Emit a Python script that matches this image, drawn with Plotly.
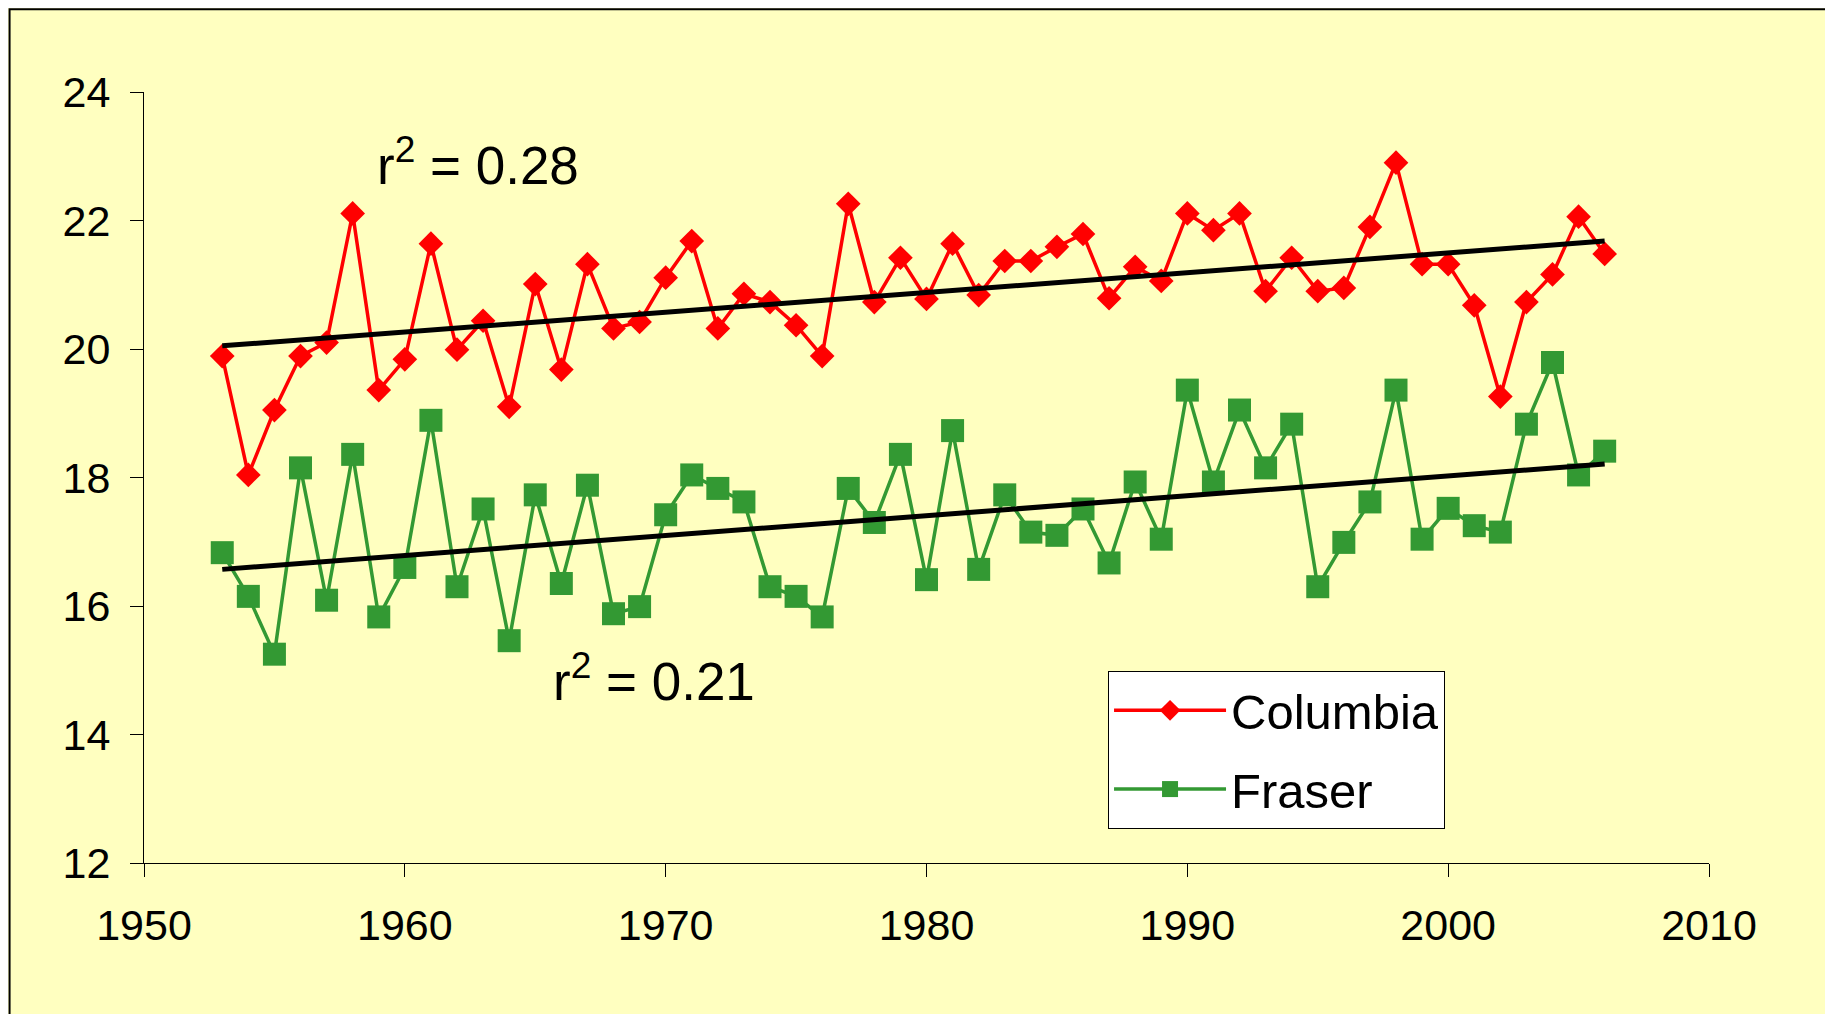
import plotly.graph_objects as go

years = list(range(1953, 2007))

columbia = [19.89, 18.04, 19.05, 19.89, 20.10, 22.11, 19.36, 19.84, 21.64, 19.99,
            20.44, 19.10, 21.01, 19.68, 21.32, 20.32, 20.42, 21.11, 21.68, 20.32,
            20.86, 20.73, 20.37, 19.89, 22.26, 20.73, 21.42, 20.78, 21.64, 20.84,
            21.37, 21.37, 21.59, 21.79, 20.79, 21.28, 21.06, 22.11, 21.85, 22.11,
            20.90, 21.42, 20.90, 20.95, 21.90, 22.90, 21.32, 21.32, 20.68, 19.26,
            20.73, 21.16, 22.06, 21.48]

fraser = [16.83, 16.15, 15.25, 18.15, 16.09, 18.36, 15.83, 16.60, 18.89, 16.30,
          17.51, 15.46, 17.73, 16.35, 17.88, 15.88, 15.99, 17.42, 18.04, 17.83,
          17.62, 16.30, 16.15, 15.83, 17.83, 17.30, 18.36, 16.41, 18.73, 16.57,
          17.73, 17.15, 17.10, 17.51, 16.67, 17.93, 17.04, 19.36, 17.93, 19.05,
          18.15, 18.83, 16.30, 16.99, 17.62, 19.36, 17.04, 17.52, 17.25, 17.15,
          18.83, 19.79, 18.04, 18.41]

trend_years = [1953, 2006]
trend_columbia = [20.05, 21.68]
trend_fraser = [16.57, 18.21]

bg = "#FFFFC0"
font = "Liberation Sans, Arial, sans-serif"

fig = go.Figure()

fig.add_trace(go.Scatter(x=years, y=columbia, mode="lines+markers", name="Columbia",
                         line=dict(color="#FF0000", width=3.5),
                         marker=dict(symbol="diamond", size=19, color="#FF0000"),
                         legendgroup="c"))
fig.add_trace(go.Scatter(x=years, y=fraser, mode="lines+markers", name="Fraser",
                         line=dict(color="#339933", width=3.5),
                         marker=dict(symbol="square", size=23, color="#339933"),
                         legendgroup="f"))

for ty in (trend_columbia, trend_fraser):
    fig.add_trace(go.Scatter(x=trend_years, y=ty, mode="lines", showlegend=False,
                             line=dict(color="black", width=5)))

fig.add_annotation(x=1962.8, y=22.92, text="r<sup>2</sup> = 0.28", showarrow=False,
                   font=dict(size=53, color="black", family=font))
fig.add_annotation(x=1969.55, y=14.88, text="r<sup>2</sup> = 0.21", showarrow=False,
                   font=dict(size=53, color="black", family=font))

# page has an 8px body margin, so the figure is 8px smaller than the window
fig.update_layout(
    width=1825, height=1006,
    margin=dict(l=135.5, r=123.5, t=83.7, b=151),
    paper_bgcolor=bg, plot_bgcolor=bg,
    font=dict(family=font, size=43, color="black"),
    showlegend=True,
    legend=dict(x=0.616, y=0.249, xanchor="left", yanchor="top",
                bgcolor="white", bordercolor="black", borderwidth=1,
                font=dict(size=49), itemwidth=112, tracegroupgap=12),
    xaxis=dict(range=[1950, 2010], tickvals=[1950, 1960, 1970, 1980, 1990, 2000, 2010],
               showgrid=False, zeroline=False, showline=True, linecolor="black", linewidth=1,
               ticks="outside", ticklen=13, tickcolor="black", ticklabelstandoff=11),
    yaxis=dict(range=[12, 24], dtick=2, showgrid=False, zeroline=False,
               showline=True, linecolor="black", linewidth=1,
               ticks="outside", ticklen=13, tickcolor="black", ticklabelstandoff=11),
    shapes=[dict(type="rect", xref="paper", yref="paper", x0=-0.0859, x1=1.075,
                 y0=-0.201, y1=1.1072, line=dict(color="black", width=2))],
)

fig.write_html("out.html")
